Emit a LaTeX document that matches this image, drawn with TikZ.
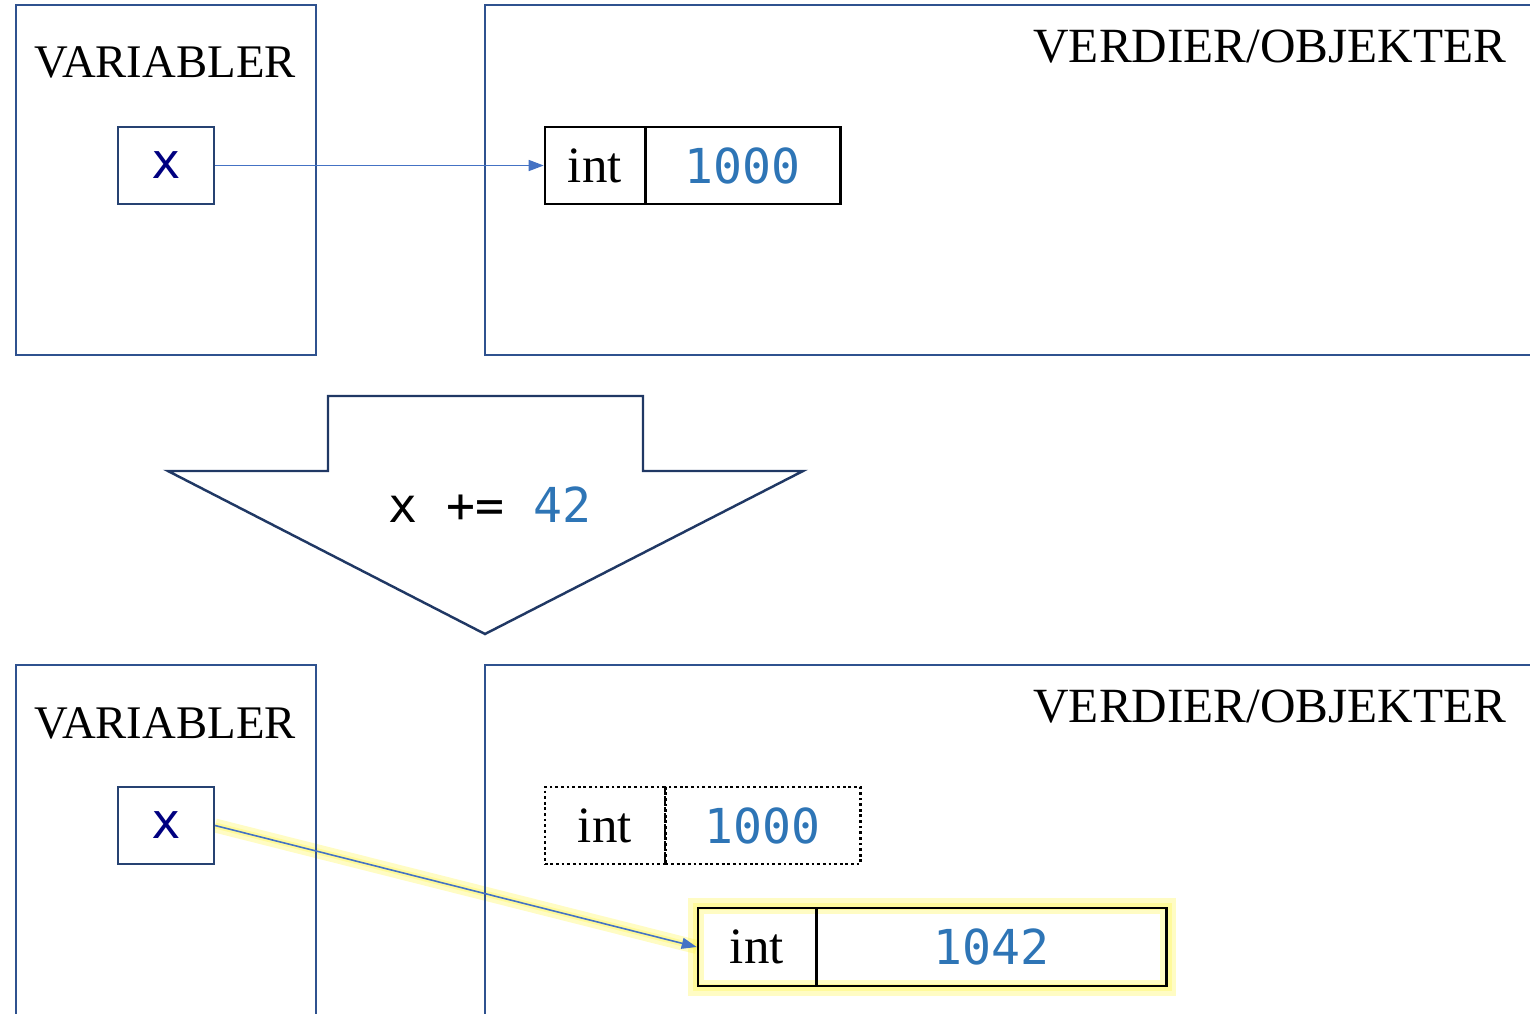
\documentclass[tikz,border=0pt]{standalone}
\usepackage{fontspec}
\setmainfont{Liberation Serif}
\setmonofont{DejaVu Sans Mono}
\usepackage{tikz}
\usetikzlibrary{matrix}
\usetikzlibrary{arrows.meta}
\usetikzlibrary{backgrounds}
\definecolor{framecol}{RGB}{47,82,143}
\definecolor{valcol}{RGB}{46,117,182}
\definecolor{varcol}{RGB}{0,0,128}
\definecolor{linkcol}{RGB}{68,114,196}
\definecolor{bigarrow}{RGB}{32,56,100}
\definecolor{glowcol}{RGB}{255,245,60}

\begin{document}
\begin{tikzpicture}

\tikzset{frame/.style={draw=framecol, line width=0.7pt},
  title/.style={font=\fontsize{13.3}{16}\selectfont, inner sep=0pt},
  wide title/.style={font=\fontsize{14}{16}\selectfont, inner sep=0pt},
  var box/.style={draw=framecol!80!black, line width=0.6pt, minimum width=0.96cm,
    minimum height=0.77cm, inner sep=0pt, font=\fontsize{14}{16}\ttfamily, text=varcol},
  cell pair/.style={
    matrix of nodes, column sep=-\pgflinewidth, inner sep=0pt,
    nodes={draw, line width=0.6pt, minimum height=#1, anchor=center, inner sep=0pt}
  }, cell pair/.default=0.77cm,
  type cell/.style={font=\fontsize{14.5}{16}\selectfont},
  value cell/.style={font=\fontsize{13.7}{16}\ttfamily, text=valcol},
  link/.style={draw=linkcol, line width=0.45pt, -{Triangle[length=0.15cm,width=0.11cm]}},
  glow/.style={draw=glowcol, line width=#1, opacity=0.3}
}

\useasboundingbox (0,0) rectangle (15.3,-10.13);

% before
\draw[frame] (0.16,-0.05) rectangle (3.16,-3.55);
\draw[frame] (4.85,-0.05) rectangle (15.45,-3.55);
\node[title, anchor=base] (varA) at (1.65,-0.78) {VARIABLER};
\node[wide title, anchor=base east] (valtitleA) at (15.07,-0.62) {VERDIER/OBJEKTER};
\node[var box] (xA) at (1.66,-1.655) {\raisebox{-0.04cm}{x}};
\matrix[cell pair, anchor=west] (oldA) at (5.43,-1.655) {
  |[type cell, minimum width=1.0cm]| int & |[value cell, minimum width=1.95cm]| 1000 \\};
\draw[link] (xA.east) -- (oldA-1-1.west);

% the step
\draw[draw=bigarrow, line width=0.7pt] (3.28,-3.96) -- (6.43,-3.96) -- (6.43,-4.71)
  -- (8.03,-4.71) -- (4.85,-6.34) -- (1.68,-4.71) -- (3.28,-4.71) -- cycle;
\node[font=\fontsize{13.7}{16}\ttfamily] (stepcode) at (4.9,-5.05) {x += \textcolor{valcol}{42}};

% after
\draw[frame] (0.16,-6.65) rectangle (3.16,-10.4);
\draw[frame] (4.85,-6.65) rectangle (15.45,-10.4);
\node[title, anchor=base] (varB) at (1.65,-7.38) {VARIABLER};
\node[wide title, anchor=base east] (valtitleB) at (15.07,-7.22) {VERDIER/OBJEKTER};
\node[var box] (xB) at (1.66,-8.255) {\raisebox{-0.04cm}{x}};
\matrix[cell pair, anchor=west, nodes={dash pattern=on 0.8pt off 0.8pt}] (oldB) at (5.43,-8.255) {
  |[type cell, minimum width=1.2cm]| int & |[value cell, minimum width=1.95cm]| 1000 \\};
\matrix[cell pair=0.78cm, anchor=west] (newB) at (6.96,-9.47) {
  |[type cell, minimum width=1.18cm]| int & |[value cell, minimum width=3.5cm]| 1042 \\};
\begin{scope}[on background layer]
  \draw[glow=0.16cm] (newB.north west) rectangle (newB.south east);
  \draw[glow=0.07cm] (newB.north west) rectangle (newB.south east);
  \draw[glow=0.14cm] (xB.east) -- (newB-1-1.west);
  \draw[glow=0.06cm] (xB.east) -- (newB-1-1.west);
\end{scope}
\draw[link] (xB.east) -- (newB-1-1.west);

\end{tikzpicture}
\end{document}
